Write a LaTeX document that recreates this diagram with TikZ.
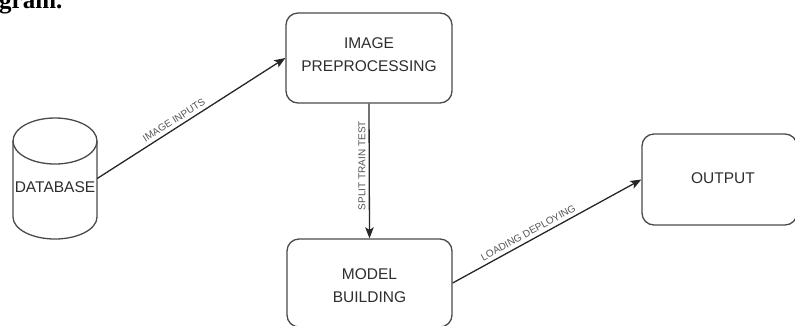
\documentclass[tikz,border=0pt]{standalone}
\usepackage{fontspec}
\setmainfont{Liberation Sans}
\newfontfamily\headfont{Liberation Serif}
\usetikzlibrary{arrows.meta}

\definecolor{edgegray}{HTML}{4A4A4A}
\definecolor{textgray}{HTML}{2E2E2E}
\definecolor{labelgray}{HTML}{555555}

\tikzset{
  stagebox/.style={draw=edgegray, line width=1.3pt, rounded corners=12pt, fill=white},
  boxtext/.style={text=textgray, font=\fontsize{15.5}{23}\selectfont, align=center},
  flow/.style={draw=black!85, line width=1.3pt, -{Stealth[length=11pt, width=8.5pt, inset=2.5pt]}},
  flowlabel/.style={text=labelgray, font=\fontsize{10}{12}\selectfont, inner sep=3.5pt}
}

\begin{document}
\begin{tikzpicture}[x=1pt, y=-1pt]
  \useasboundingbox (0,0) rectangle (795,325);
  \clip (0,0) rectangle (795,325);

  % heading fragment at the top edge
  \node[anchor=base west, inner sep=0, font=\headfont\bfseries\fontsize{25}{28}\selectfont] (head) at (-1,8) {gram.};

  % database cylinder (y axis points down, so arcs through 90 deg bulge downwards)
  \filldraw[draw=edgegray, fill=white, line width=1.3pt]
    (13,141) -- (13,217) arc[start angle=180, end angle=0, x radius=42, y radius=22]
    -- (97,141) arc[start angle=0, end angle=-180, x radius=42, y radius=23] -- cycle;
  \draw[draw=edgegray, line width=1.3pt]
    (13,141) arc[start angle=180, end angle=0, x radius=42, y radius=23];
  \node[minimum width=84pt, minimum height=121pt, inner sep=0] (db) at (55,178.5) {};
  \node[boxtext] (dbtext) at (55,187) {DATABASE};

  % processing stages
  \node[stagebox, minimum width=166pt, minimum height=90pt] (pre) at (369,58) {};
  \node[boxtext] (pretext) at (369,55) {IMAGE\\PREPROCESSING};

  \node[stagebox, minimum width=165pt, minimum height=88pt] (mb) at (369.5,283) {};
  \node[boxtext] (mbtext) at (369.5,286) {MODEL\\BUILDING};

  \node[stagebox, minimum width=155pt, minimum height=91pt] (out) at (719.5,179.5) {};
  \node[boxtext] (outtext) at (723,178) {OUTPUT};

  % connectors
  \draw[flow] (db.east) -- node[flowlabel, pos=0.43, sloped, anchor=south] {IMAGE INPUTS} (pre.west);
  \draw[flow] (pre.south) -- node[flowlabel, pos=0.46, rotate=90, anchor=south, inner sep=3pt] {SPLIT TRAIN TEST} (mb.north);
  \draw[flow] (mb.east) -- node[flowlabel, pos=0.42, sloped, anchor=south] {LOADING DEPLOYING} (out.west);
\end{tikzpicture}
\end{document}
